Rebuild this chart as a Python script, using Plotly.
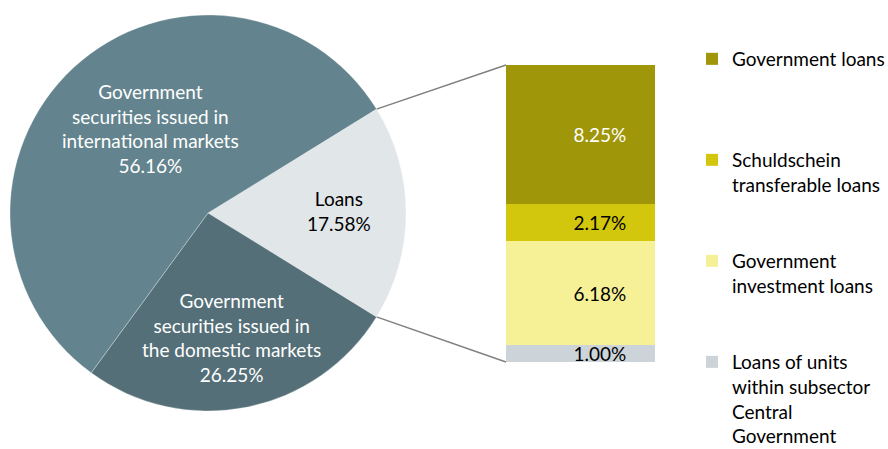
import numpy as np
import plotly.graph_objects as go

# ---- data ----
pie_labels = ["Loans",
              "Government<br>securities issued in<br>the domestic markets",
              "Government<br>securities issued in<br>international markets"]
pie_values = [17.58, 26.25, 56.16]
pie_colors = ["#E1E6E9", "#546F78", "#63848E"]
pie_text_colors = ["#000000", "#FFFFFF", "#FFFFFF"]

bar_names = ["Loans of units<br>within subsector<br>Central<br>Government",
             "Government<br>investment loans",
             "Schuldschein<br>transferable loans",
             "Government loans"]
bar_values = [1.00, 6.18, 2.17, 8.25]
bar_colors = ["#CCD4D9", "#F6F196", "#D3C70D", "#9F9609"]
bar_text_colors = ["#000000", "#000000", "#000000", "#FFFFFF"]

W, H = 888, 449
FONT = "Lato"

# ---- geometry (pixels) ----
pie_cx, pie_cy, pie_r = 208, 213, 198
bar_x0, bar_x1, bar_top, bar_bot = 506, 655, 65, 362
# label placement inside each slice: radius fraction, angle nudge (deg)
label_rfrac = [0.66, 0.64, 0.514]
label_nudge = [1.0, -0.4, -8.4]


def px(x):
    return x / W


def py(y):
    return 1 - y / H


total = sum(pie_values)
half_deg = 180 * pie_values[0] / total

fig = go.Figure()

fig.add_trace(go.Pie(
    labels=pie_labels, values=pie_values, sort=False, direction="clockwise",
    rotation=90 - half_deg,
    marker=dict(colors=pie_colors, line=dict(color="rgba(255,255,255,0.5)", width=0.6)),
    textinfo="none", showlegend=False, hoverinfo="label+value",
    domain=dict(x=[px(pie_cx - pie_r), px(pie_cx + pie_r)],
                y=[py(pie_cy + pie_r), py(pie_cy - pie_r)]),
))

# slice labels placed from the slice geometry
cum = 0.0
for lab, v, tc, rf, nd in zip(pie_labels, pie_values, pie_text_colors, label_rfrac, label_nudge):
    mid = half_deg - 360 * (cum + v / 2) / total + nd
    cum += v
    a = np.deg2rad(mid)
    lx = pie_cx + pie_r * rf * np.cos(a)
    ly = pie_cy - pie_r * rf * np.sin(a)
    fig.add_annotation(x=px(lx), y=py(ly), xref="paper", yref="paper",
                       text=f"{lab}<br>{v:.2f}%", showarrow=False, align="center",
                       xanchor="center", yanchor="middle",
                       font=dict(family=FONT, size=19, color=tc))

legend_ids = ["legend4", "legend3", "legend2", "legend"]
for name, v, c, tc, lg in zip(bar_names, bar_values, bar_colors, bar_text_colors, legend_ids):
    fig.add_trace(go.Bar(
        x=["Loans"], y=[v], name=name, marker=dict(color=c, line=dict(width=0)),
        width=1, text=["\u00a0" * 8 + f"{v:.2f}%"], textposition="inside",
        textangle=0, constraintext="none", insidetextanchor="middle",
        textfont=dict(family=FONT, size=19, color=tc),
        legend=lg, hoverinfo="name+y",
    ))

# connector lines from the loans slice to the bar
half = np.deg2rad(half_deg)
ex = pie_cx + pie_r * np.cos(half)
ey_top = pie_cy - pie_r * np.sin(half)
ey_bot = pie_cy + pie_r * np.sin(half)
for (y0, y1) in [(ey_top, bar_top), (ey_bot, bar_bot)]:
    fig.add_shape(type="line", xref="paper", yref="paper",
                  x0=px(ex), y0=py(y0), x1=px(bar_x0), y1=py(y1),
                  line=dict(color="#7F7F7F", width=1.5), layer="below")

leg_common = dict(xanchor="left", yanchor="top", valign="top",
                  xref="container", yref="container",
                  font=dict(family=FONT, size=19, color="#000000"),
                  bgcolor="rgba(0,0,0,0)", borderwidth=0, itemclick=False,
                  itemdoubleclick=False)
first_line_y = [60, 161, 262, 363]
legend_keys = ["legend", "legend2", "legend3", "legend4"]
legend_layout = {}
for key, yy in zip(legend_keys, first_line_y):
    legend_layout[key] = dict(x=px(692), y=py(yy - 20), **leg_common)

fig.update_layout(
    width=W, height=H, margin=dict(l=0, r=0, t=0, b=0, autoexpand=False),
    paper_bgcolor="white", plot_bgcolor="white",
    barmode="stack", bargap=0,
    xaxis=dict(domain=[px(bar_x0), px(bar_x1)], range=[-0.5, 0.5], visible=False, fixedrange=True),
    yaxis=dict(domain=[py(bar_bot), py(bar_top)], range=[0, sum(bar_values)], visible=False, fixedrange=True),
    font=dict(family=FONT, size=19),
    showlegend=True,
    **legend_layout,
)

fig.write_html("out.html", config={"displayModeBar": False},
               post_script="document.body.style.margin='0';document.body.style.overflow='hidden';")
